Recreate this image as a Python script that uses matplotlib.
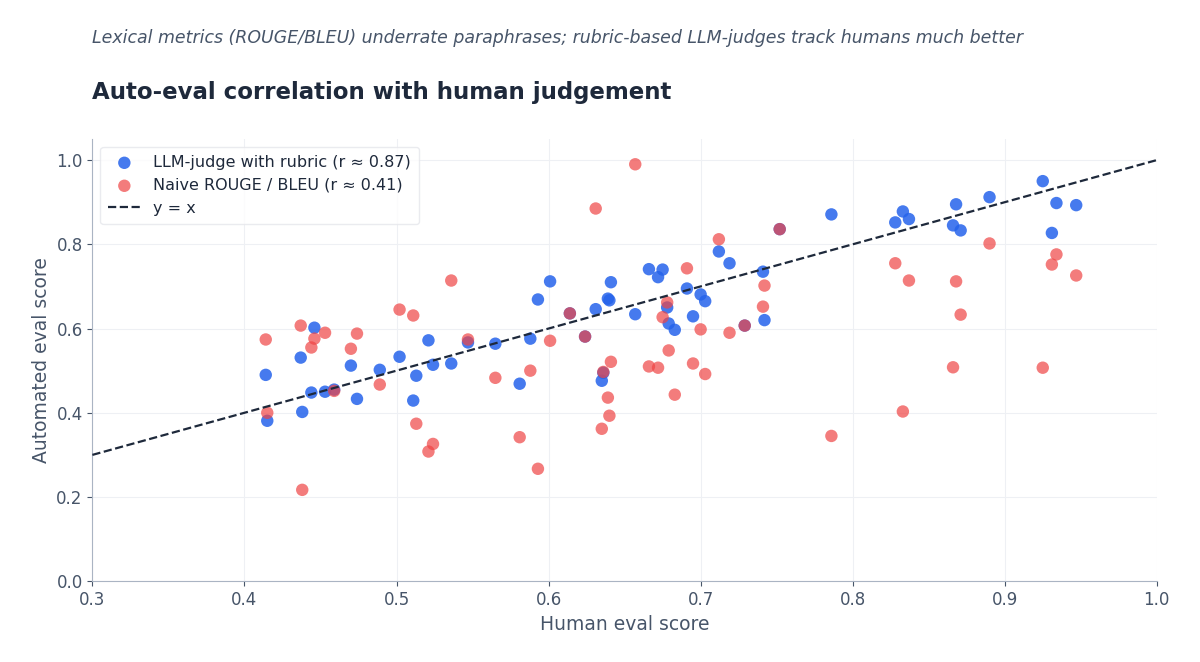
import numpy as np
import matplotlib.pyplot as plt

human = [0.414, 0.415, 0.437, 0.438, 0.444, 0.446, 0.453, 0.459, 0.470, 0.474,
         0.489, 0.502, 0.511, 0.513, 0.521, 0.524, 0.536, 0.547, 0.565, 0.581,
         0.588, 0.593, 0.601, 0.614, 0.624, 0.631, 0.635, 0.636, 0.639, 0.640,
         0.641, 0.657, 0.666, 0.672, 0.675, 0.678, 0.679, 0.683, 0.691, 0.695,
         0.700, 0.703, 0.712, 0.719, 0.729, 0.741, 0.742, 0.752, 0.786, 0.828,
         0.833, 0.837, 0.866, 0.868, 0.871, 0.890, 0.925, 0.931, 0.934, 0.947]
llm_judge = [0.490, 0.381, 0.531, 0.402, 0.448, 0.602, 0.450, 0.455, 0.512, 0.433,
             0.502, 0.533, 0.429, 0.488, 0.572, 0.514, 0.517, 0.567, 0.564, 0.469,
             0.576, 0.669, 0.712, 0.636, 0.581, 0.646, 0.476, 0.495, 0.671, 0.667,
             0.710, 0.634, 0.741, 0.722, 0.740, 0.650, 0.612, 0.597, 0.695, 0.629,
             0.681, 0.665, 0.783, 0.755, 0.607, 0.735, 0.620, 0.836, 0.871, 0.852,
             0.878, 0.860, 0.845, 0.895, 0.833, 0.912, 0.950, 0.827, 0.898, 0.893]
rouge = [0.574, 0.400, 0.607, 0.217, 0.555, 0.576, 0.590, 0.452, 0.552, 0.588,
         0.467, 0.645, 0.631, 0.374, 0.308, 0.326, 0.714, 0.574, 0.483, 0.342,
         0.500, 0.267, 0.571, 0.636, 0.581, 0.885, 0.362, 0.497, 0.436, 0.393,
         0.521, 0.990, 0.510, 0.507, 0.627, 0.662, 0.548, 0.443, 0.743, 0.517,
         0.598, 0.492, 0.812, 0.590, 0.607, 0.652, 0.702, 0.836, 0.345, 0.755,
         0.403, 0.714, 0.508, 0.712, 0.633, 0.802, 0.507, 0.752, 0.776, 0.726]

fig = plt.figure(figsize=(12, 6.62), dpi=100)
ax = fig.add_axes([0.077, 0.122, 0.887, 0.668])

ax.scatter(human, llm_judge, s=80, color='#2563eb', alpha=0.85, edgecolors='none',
           label='LLM-judge with rubric (r ≈ 0.87)', zorder=3)
ax.scatter(human, rouge, s=80, color='#ef4444', alpha=0.7, edgecolors='none',
           label='Naive ROUGE / BLEU (r ≈ 0.41)', zorder=3)
line = np.array([0.3, 1.0])
ax.plot(line, line, '--', color='#1e293b', lw=1.6, label='y = x', zorder=4)

ax.set_xlim(0.3, 1.0)
ax.set_ylim(0, 1.05)
ax.set_yticks([0, 0.2, 0.4, 0.6, 0.8, 1.0])
ax.grid(color='#eef0f4', lw=0.8)
ax.set_axisbelow(True)
for s in ['top', 'right']:
    ax.spines[s].set_visible(False)
for s in ['left', 'bottom']:
    ax.spines[s].set_color('#aab4c3')
ax.tick_params(colors='#475569', labelsize=12)
ax.set_xlabel('Human eval score', fontsize=13.5, color='#475569')
ax.set_ylabel('Automated eval score', fontsize=13.5, color='#475569')
ax.legend(loc='upper left', fontsize=11.5, frameon=True, edgecolor='#e5e7eb',
          labelcolor='#1e293b', borderpad=0.5)

fig.text(0.077, 0.935, 'Lexical metrics (ROUGE/BLEU) underrate paraphrases; rubric-based LLM-judges track humans much better',
         fontsize=12.5, style='italic', color='#475569')
fig.text(0.077, 0.85, 'Auto-eval correlation with human judgement', fontsize=16.5,
         weight='bold', color='#1e293b')

fig.savefig('out.png')
